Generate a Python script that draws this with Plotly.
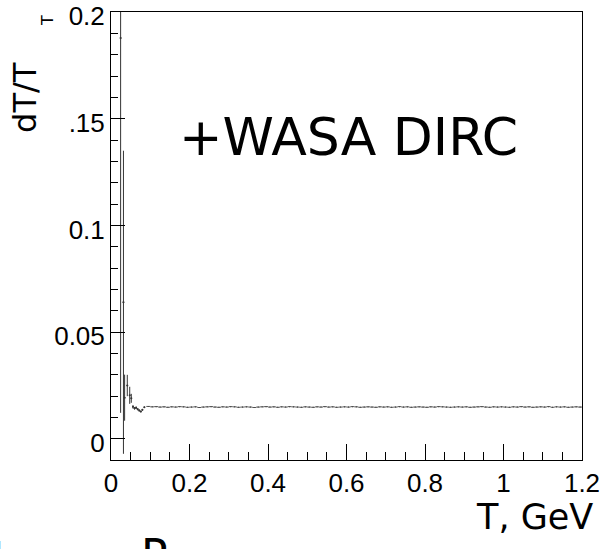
import plotly.graph_objects as go

# ---- data ----
early_T = [0.0245, 0.0317, 0.0347, 0.0415, 0.0477, 0.0517, 0.056, 0.060, 0.064, 0.068, 0.072, 0.076, 0.080, 0.085]
early_val = [0.1878, 0.064, 0.0193, 0.025, 0.0204, 0.0190, 0.0150, 0.0143, 0.0146, 0.0139, 0.0133, 0.0128, 0.0136, 0.0148]
early_err = [0.1756, 0.071, 0.0108, 0.005, 0.004, 0.0021, 0.0008, 0.0006, 0.0006, 0.0005, 0.0005, 0.0004, 0.0004, 0.0003]

main_T0 = 0.095
main_dT = 0.01
main_val = [
    0.0152, 0.0150, 0.0151, 0.0149, 0.0150, 0.0148, 0.0150, 0.0149, 0.0151, 0.0150,
    0.0148, 0.0149, 0.0150, 0.0147, 0.0149, 0.0150, 0.0151, 0.0149, 0.0148, 0.0150,
    0.0149, 0.0151, 0.0150, 0.0148, 0.0149, 0.0150, 0.0149, 0.0147, 0.0149, 0.0150,
    0.0151, 0.0149, 0.0150, 0.0148, 0.0150, 0.0149, 0.0151, 0.0150, 0.0149, 0.0148,
    0.0150, 0.0149, 0.0148, 0.0150, 0.0149, 0.0151, 0.0149, 0.0150, 0.0148, 0.0149,
    0.0150, 0.0149, 0.0151, 0.0150, 0.0148, 0.0149, 0.0150, 0.0149, 0.0148, 0.0150,
    0.0149, 0.0150, 0.0148, 0.0149, 0.0151, 0.0149, 0.0150, 0.0148, 0.0149, 0.0150,
    0.0149, 0.0148, 0.0150, 0.0149, 0.0151, 0.0150, 0.0149, 0.0148, 0.0149, 0.0150,
    0.0149, 0.0150, 0.0148, 0.0149, 0.0150, 0.0151, 0.0149, 0.0148, 0.0150, 0.0149,
    0.0150, 0.0149, 0.0148, 0.0150, 0.0149, 0.0151, 0.0149, 0.0150, 0.0148, 0.0149,
    0.0150, 0.0149, 0.0151, 0.0148, 0.0150, 0.0149, 0.0150, 0.0148, 0.0149, 0.0150,
    0.0149,
]
main_err = [0.0002] * len(main_val)

x_tickvals = [0, 0.2, 0.4, 0.6, 0.8, 1.0, 1.2]
x_ticktext = ["0", "0.2", "0.4", "0.6", "0.8", "1", "1.2"]
y_tickvals = [0, 0.05, 0.1, 0.15, 0.2]
y_ticktext = ["0", "0.05", "0.1", ".15", "0.2"]

fig = go.Figure()
fig.add_trace(go.Scatter(
    x=early_T, y=early_val, mode="markers",
    marker=dict(size=2, color="#333333"),
    error_y=dict(type="data", array=early_err, width=0, thickness=1, color="#333333"),
    error_x=dict(type="constant", value=0.002, width=0, thickness=1, color="#555555"),
    showlegend=False,
))
fig.add_trace(go.Scatter(
    x0=main_T0, dx=main_dT, y=main_val, mode="markers",
    marker=dict(size=1, color="#444444"),
    error_y=dict(type="data", array=main_err, width=0, thickness=1, color="#444444"),
    error_x=dict(type="constant", value=main_dT / 2, width=0, thickness=1, color="#555555"),
    showlegend=False,
))

axis_common = dict(
    showline=True, linecolor="black", linewidth=1, mirror=True,
    ticks="inside", tickcolor="black", showgrid=False, zeroline=False,
    ticklabeloverflow="allow", automargin=False,
    tickfont=dict(family="Liberation Sans, Arial", size=26, color="black"),
)
fig.update_xaxes(
    range=[0, 1.2], tickvals=x_tickvals, ticktext=x_ticktext, ticklen=16,
    minor=dict(dtick=0.05, ticks="inside", ticklen=8, tickcolor="black", showgrid=False),
    **axis_common,
)
fig.update_yaxes(
    range=[-0.0099, 0.2], tickvals=y_tickvals, ticktext=y_ticktext, ticklen=14,
    ticklabelshift=4,
    minor=dict(dtick=0.01, ticks="inside", ticklen=7, tickcolor="black", showgrid=False),
    **axis_common,
)

fig.update_layout(
    width=600, height=549,
    margin=dict(l=111, r=18, t=12, b=89, autoexpand=False),
    plot_bgcolor="white", paper_bgcolor="white",
    annotations=[
        dict(text="+WASA DIRC", xref="paper", yref="paper", x=0.505, y=0.721,
             xanchor="center", yanchor="middle",
             showarrow=False, font=dict(family="DejaVu Sans", size=52, color="black")),
        dict(text="dT/T", xref="paper", yref="paper", x=-0.183, y=0.81, textangle=-90,
             xanchor="center", yanchor="middle",
             showarrow=False, font=dict(family="DejaVu Sans", size=32, color="black")),
        dict(text="T", xref="paper", yref="paper", x=-0.136, y=0.982, textangle=-90,
             xanchor="center", yanchor="middle",
             showarrow=False, font=dict(family="DejaVu Sans", size=16, color="black")),
        dict(text="T, GeV", xref="paper", yref="paper", x=0.90, y=-0.127,
             xanchor="center", yanchor="middle",
             showarrow=False, font=dict(family="DejaVu Sans", size=35, color="black")),
        dict(text="h", xref="paper", yref="paper", x=-0.19, y=-0.16, yanchor="top", xanchor="right",
             showarrow=False, font=dict(family="DejaVu Sans", size=44, color="black")),
        dict(text="P", xref="paper", yref="paper", x=0.093, y=-0.152, yanchor="top", xanchor="center",
             showarrow=False, font=dict(family="DejaVu Sans", size=44, color="black")),
    ],
)

fig.write_html("out.html")
